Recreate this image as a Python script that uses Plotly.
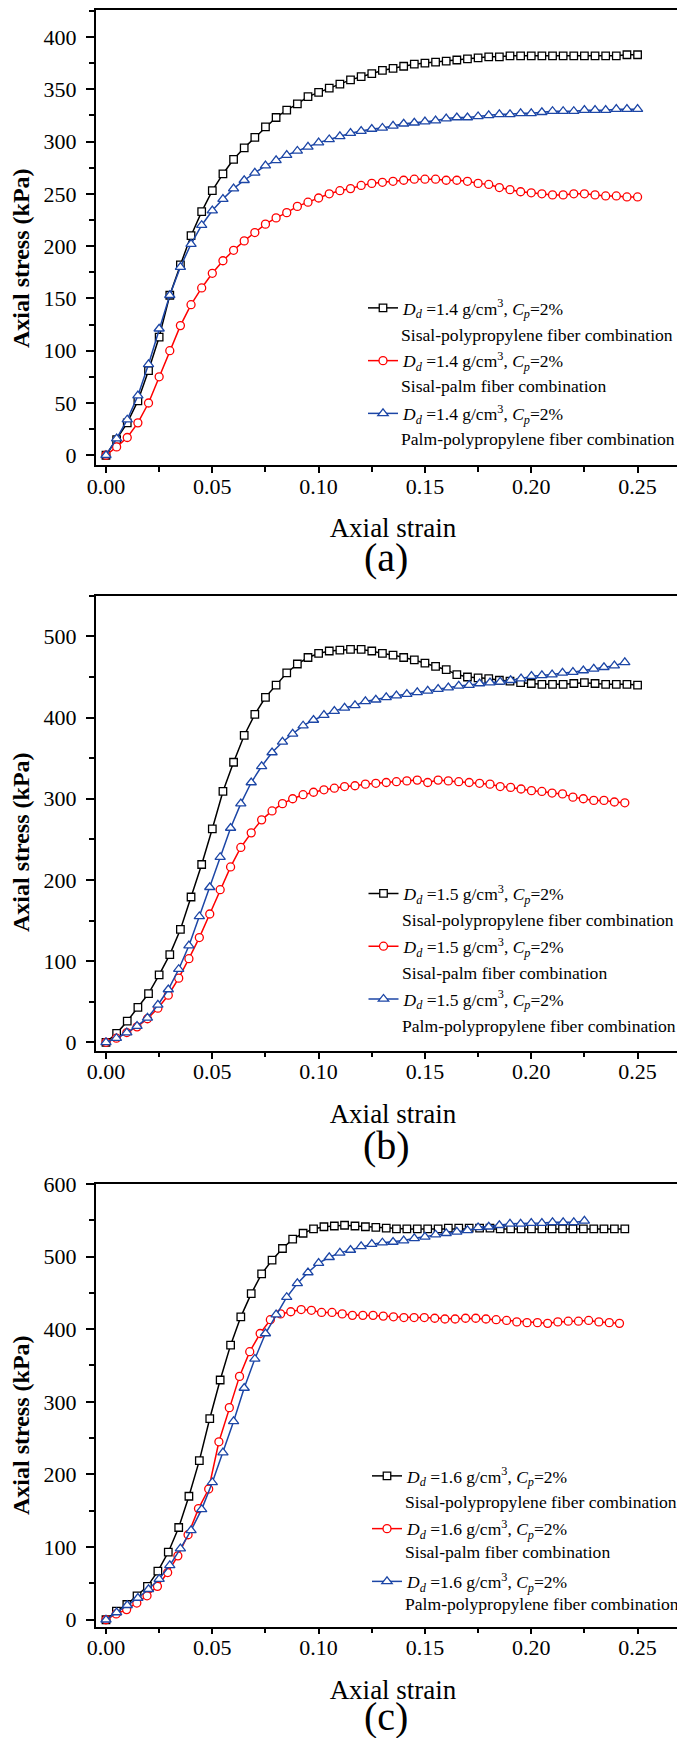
import plotly.graph_objects as go

W, H = 685, 1738
FONT = "Liberation Serif"

# ---------------- data ----------------
STRAIN_5 = [0, 0.005, 0.01, 0.015, 0.02, 0.025, 0.03, 0.035, 0.04, 0.045,
            0.05, 0.055, 0.06, 0.065, 0.07, 0.075, 0.08, 0.085, 0.09, 0.095,
            0.10, 0.105, 0.11, 0.115, 0.12, 0.125, 0.13, 0.135, 0.14, 0.145,
            0.15, 0.155, 0.16, 0.165, 0.17, 0.175, 0.18, 0.185, 0.19, 0.195,
            0.20, 0.205, 0.21, 0.215, 0.22, 0.225, 0.23, 0.235, 0.24, 0.245, 0.25]
STRAIN_488 = [0, 0.0049, 0.0098, 0.0146, 0.0195, 0.0244, 0.0293, 0.0342, 0.039, 0.0439,
              0.0488, 0.0537, 0.0586, 0.0634, 0.0683, 0.0732, 0.0781, 0.083, 0.0878, 0.0927,
              0.0976, 0.1025, 0.1074, 0.1122, 0.1171, 0.122, 0.1269, 0.1318, 0.1366, 0.1415,
              0.1464, 0.1513, 0.1562, 0.161, 0.1659, 0.1708, 0.1757, 0.1806, 0.1854, 0.1903,
              0.1952, 0.2001, 0.205, 0.2098, 0.2147, 0.2196, 0.2245, 0.2294, 0.2342, 0.2391, 0.244]
STRAIN_483 = [0, 0.0048, 0.0097, 0.0145, 0.0193, 0.0242, 0.029, 0.0338, 0.0386, 0.0435,
              0.0483, 0.0531, 0.058, 0.0628, 0.0676, 0.0725, 0.0773, 0.0821, 0.0869, 0.0918,
              0.0966, 0.1014, 0.1063, 0.1111, 0.1159, 0.1208, 0.1256, 0.1304, 0.1352, 0.1401,
              0.1449, 0.1497, 0.1546, 0.1594, 0.1642, 0.1691, 0.1739, 0.1787, 0.1835, 0.1884,
              0.1932, 0.198, 0.2029, 0.2077, 0.2125, 0.2174, 0.2222, 0.227, 0.2318, 0.2367, 0.2415]
STRAIN_5_SHORT = STRAIN_5[:46]

# panel (a): Dd = 1.4 g/cm3
A_SISAL_PP = [0, 15, 31, 52, 81, 113, 153, 182, 210, 233,
              253, 269, 283, 294, 304, 314, 323, 330, 336, 343,
              347, 351, 355, 359, 362, 365, 368, 370, 372, 374,
              375, 376, 377, 378, 379, 380, 381, 381, 382, 382,
              382, 382, 382, 382, 382, 382, 382, 382, 382, 383, 383]
A_SISAL_PALM = [0, 8, 17, 31, 50, 75, 100, 124, 144, 160,
                174, 186, 196, 205, 213, 221, 227, 232, 238, 242,
                246, 250, 253, 255, 258, 260, 261, 262, 263, 264,
                264, 264, 263, 263, 262, 260, 259, 256, 254, 252,
                251, 250, 249, 249, 250, 250, 249, 248, 248, 247, 247]
A_PALM_PP = [0, 16, 34, 57, 87, 121, 153, 180, 202, 220,
             234, 245, 255, 263, 270, 277, 282, 287, 291, 295,
             299, 302, 305, 308, 310, 312, 313, 315, 317, 318,
             319, 320, 322, 323, 323, 324, 325, 326, 326, 327,
             327, 328, 329, 329, 329, 330, 330, 330, 331, 331, 331]

# panel (b): Dd = 1.5 g/cm3
B_SISAL_PP = [0, 11, 26, 43, 60, 83, 108, 139, 179, 219,
              263, 309, 345, 378, 404, 425, 440, 455, 466, 474,
              479, 482, 483, 484, 484, 482, 479, 477, 474, 471,
              467, 463, 459, 453, 450, 449, 448, 446, 445, 443,
              442, 441, 441, 441, 442, 443, 442, 441, 441, 441, 440]
B_SISAL_PALM = [0, 5, 12, 19, 29, 42, 58, 79, 103, 129,
                158, 188, 216, 240, 258, 274, 285, 294, 300, 305,
                308, 311, 313, 315, 316, 318, 319, 320, 321, 322,
                323, 320, 323, 322, 321, 320, 319, 318, 315, 314,
                312, 310, 309, 307, 306, 302, 300, 298, 298, 296, 295]
B_PALM_PP = [0, 5, 12, 20, 30, 46, 65, 90, 119, 155,
             191, 228, 264, 294, 320, 340, 357, 370, 380, 390,
             397, 403, 408, 412, 415, 420, 422, 425, 427, 429,
             431, 433, 435, 437, 439, 440, 442, 443, 444, 446,
             448, 451, 452, 453, 455, 456, 458, 460, 462, 464, 468]

# panel (c): Dd = 1.6 g/cm3
C_SISAL_PP = [0, 12, 21, 33, 46, 67, 93, 127, 170, 219,
              277, 330, 378, 417, 449, 476, 495, 511, 524, 532,
              538, 541, 542, 543, 542, 541, 540, 539, 538, 538,
              538, 538, 538, 539, 539, 539, 539, 539, 538, 538,
              538, 538, 538, 538, 538, 538, 538, 538, 538, 538, 538]
C_SISAL_PALM = [0, 8, 14, 23, 33, 46, 65, 88, 117, 153,
                180, 245, 292, 335, 369, 394, 413, 421, 424, 427,
                426, 423, 423, 421, 419, 419, 419, 418, 417, 416,
                416, 416, 415, 414, 414, 415, 415, 414, 413, 412,
                410, 409, 409, 408, 410, 411, 411, 412, 410, 409, 408]
C_PALM_PP = [0, 10, 20, 30, 42, 56, 75, 98, 123, 152,
             189, 230, 273, 319, 359, 394, 420, 444, 463, 478,
             491, 499, 505, 509, 514, 517, 519, 520, 522, 525,
             527, 530, 532, 534, 536, 540, 541, 543, 545, 545,
             546, 546, 547, 547, 547, 549]

DENSITIES = ["1.4", "1.5", "1.6"]
COMBINATIONS = ["Sisal-polypropylene fiber combination",
                "Sisal-palm fiber combination",
                "Palm-polypropylene fiber combination"]
PANEL_LABELS = ["(a)", "(b)", "(c)"]
X_TICKS = [0, 0.05, 0.10, 0.15, 0.20, 0.25]
X_TITLE = "Axial strain"
Y_TITLE = "Axial stress (kPa)"

PANELS = [
    [(STRAIN_5, A_SISAL_PP), (STRAIN_5, A_SISAL_PALM), (STRAIN_5, A_PALM_PP)],
    [(STRAIN_5, B_SISAL_PP), (STRAIN_488, B_SISAL_PALM), (STRAIN_488, B_PALM_PP)],
    [(STRAIN_488, C_SISAL_PP), (STRAIN_483, C_SISAL_PALM), (STRAIN_5_SHORT, C_PALM_PP)],
]

# ---------------- styling ----------------
COLORS = ["#000000", "#ff0000", "#1c46a6"]
SYMBOLS = ["square", "circle", "triangle-up"]
MSIZES = [7.5, 8, 9]

# pixel geometry (top-origin)
X_LEFT, X_RIGHT = 87.7, 682.3
PANEL_TOPS = [2, 587.5, 1175.5]
PANEL_BOTS = [457.3, 1042.8, 1618.6]
Y_RANGES = [[-9.6, 425.8], [-10.5, 550.4], [-9.4, 600.5]]
Y_DTICK = [50, 100, 100]
X_RANGE = [-0.00484, 0.2748]

LEG_X = [355, 355.5, 359]
LEG_TOP = [282, 867.6, 1450]
SECOND_X = [391, 392, 395]
SECOND_Y = [[326.8, 377.9, 431.4], [912, 965, 1018], [1494, 1544.3, 1595.8]]
LABEL_Y = [549, 1137, 1708.5]
YTITLE_Y = [250, 834, 1417]


def py(p):
    return 1 - p / H


def px(p):
    return p / W


fig = go.Figure()
layout = dict(width=W, height=H,
              margin=dict(l=0, r=0, t=0, b=0, pad=0, autoexpand=False),
              paper_bgcolor="white", plot_bgcolor="white",
              font=dict(family=FONT, color="black"),
              showlegend=True)
annotations = []

for p in range(3):
    suf = "" if p == 0 else str(p + 1)
    xa, ya = "x" + suf, "y" + suf
    leg = "legend" + suf
    for s in range(3):
        xs, ys = PANELS[p][s]
        name = ("<i>D</i><sub><i>d</i></sub> =" + DENSITIES[p] +
                " g/cm<sup>3</sup>, <i>C</i><sub><i>p</i></sub>=2%")
        fig.add_trace(go.Scatter(
            x=xs, y=ys, mode="lines+markers", name=name,
            xaxis=xa, yaxis=ya, legend=leg, legendgroup=f"p{p}s{s}",
            line=dict(color=COLORS[s], width=1.5),
            marker=dict(symbol=SYMBOLS[s], size=MSIZES[s], color="white",
                        line=dict(width=1.3, color=COLORS[s])),
        ))
        annotations.append(dict(
            xref="paper", yref="paper", x=px(SECOND_X[p]), y=py(SECOND_Y[p][s]),
            xanchor="left", yanchor="middle", align="left", showarrow=False,
            text=COMBINATIONS[s], font=dict(family=FONT, size=17.6, color="black")))

    layout["xaxis" + suf] = dict(
        domain=[px(X_LEFT), px(X_RIGHT)], anchor=ya, range=X_RANGE,
        tickvals=X_TICKS, tickformat=".2f", automargin=False,
        ticks="outside", ticklen=6, tickwidth=1.5, tickcolor="black",
        minor=dict(ticks="outside", ticklen=4.5, tickwidth=1.5, dtick=0.025, tick0=0,
                   tickcolor="black", showgrid=False),
        showline=True, linewidth=1.6, linecolor="black", mirror=True,
        showgrid=False, zeroline=False, ticklabelstandoff=-6,
        tickfont=dict(family=FONT, size=22, color="black"),
        title=dict(text=X_TITLE, standoff=21,
                   font=dict(family=FONT, size=27, color="black")),
    )
    layout["yaxis" + suf] = dict(
        domain=[py(PANEL_BOTS[p]), py(PANEL_TOPS[p])], anchor=xa,
        range=Y_RANGES[p], dtick=Y_DTICK[p], tick0=0, automargin=False,
        ticks="outside", ticklen=8, tickwidth=1.5, tickcolor="black",
        minor=dict(ticks="outside", ticklen=5, tickwidth=1.5, dtick=Y_DTICK[p] / 2,
                   tick0=0, tickcolor="black", showgrid=False),
        showline=True, linewidth=1.6, linecolor="black", mirror=True,
        showgrid=False, zeroline=False, ticklabelstandoff=5,
        tickfont=dict(family=FONT, size=22, color="black"),
    )
    layout[leg] = dict(
        x=px(LEG_X[p]), y=py(LEG_TOP[p]), xanchor="left", yanchor="top",
        bgcolor="rgba(0,0,0,0)", borderwidth=0, tracegroupgap=27,
        font=dict(family=FONT, size=17.5, color="black"),
        itemwidth=30,
    )
    annotations.append(dict(
        xref="paper", yref="paper", x=px(13), y=py(YTITLE_Y[p]),
        xanchor="center", yanchor="middle", showarrow=False, textangle=-90,
        text=Y_TITLE, font=dict(family=FONT, size=24, color="black", weight="bold")))
    annotations.append(dict(
        xref="paper", yref="paper", x=px(378.3), y=py(LABEL_Y[p]),
        xanchor="center", yanchor="middle", showarrow=False,
        text=PANEL_LABELS[p], font=dict(family=FONT, size=40, color="black")))

layout["annotations"] = annotations
fig.update_layout(**layout)
fig.write_html("out.html")
